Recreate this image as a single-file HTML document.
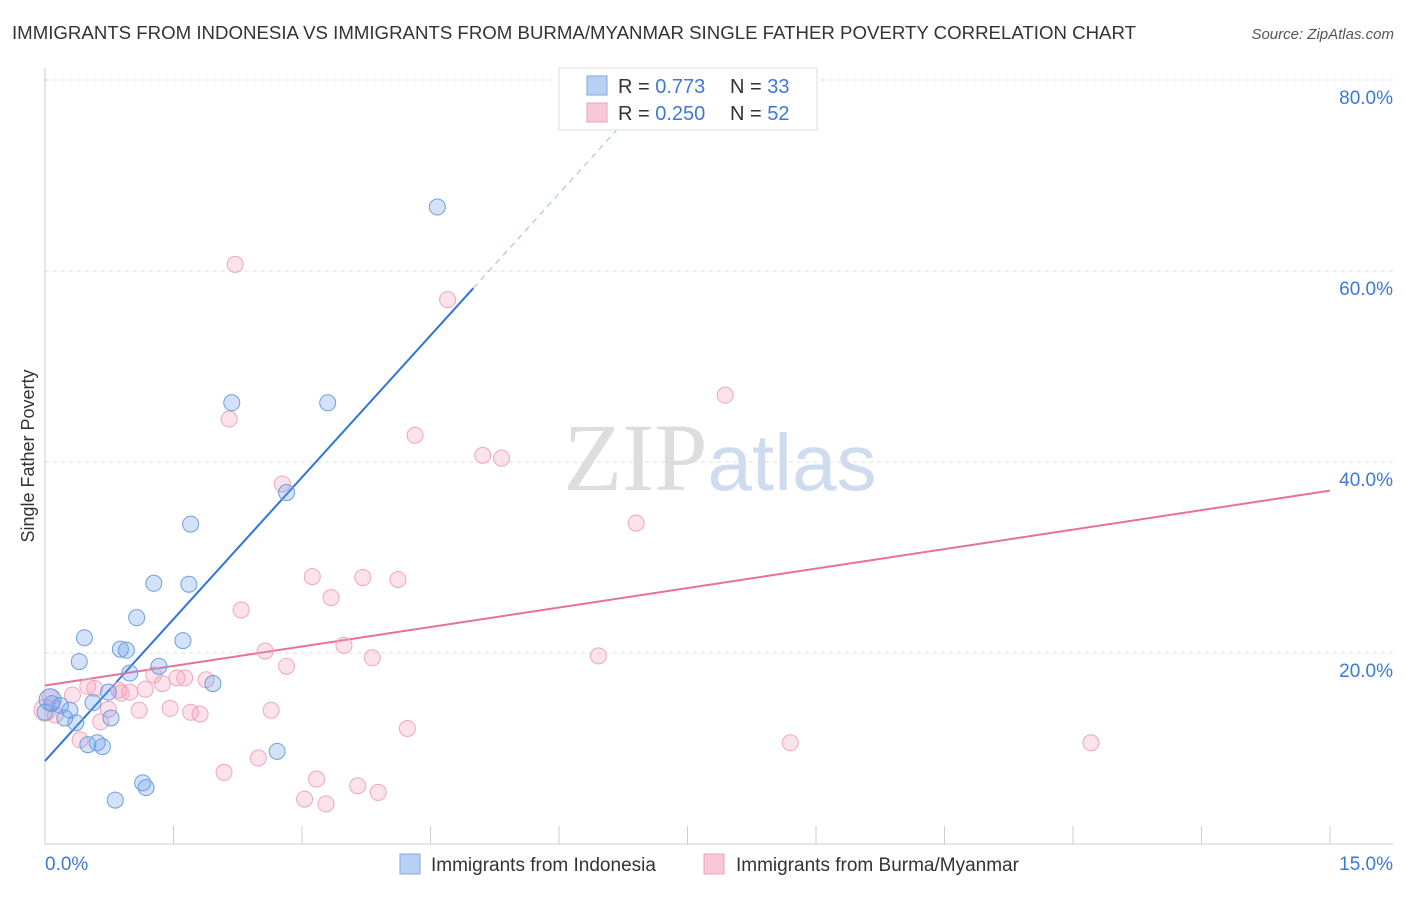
<!DOCTYPE html>
<html><head><meta charset="utf-8">
<style>
body{margin:0;background:#fff;font-family:"Liberation Sans",sans-serif;}
svg text{font-family:"Liberation Sans",sans-serif;}
</style></head>
<body>
<svg id="chart" width="1406" height="892" xmlns="http://www.w3.org/2000/svg">
<text x="12" y="39" font-size="18" fill="#333" textLength="1124" lengthAdjust="spacingAndGlyphs">IMMIGRANTS FROM INDONESIA VS IMMIGRANTS FROM BURMA/MYANMAR SINGLE FATHER POVERTY CORRELATION CHART</text>
<text x="1394" y="39" font-size="15" fill="#555" font-style="italic" text-anchor="end">Source: ZipAtlas.com</text>
<text x="720" y="490" font-size="96" text-anchor="middle"><tspan fill="#ddd" font-family="Liberation Serif">ZIP</tspan><tspan fill="#cfdcf0" font-size="80">atlas</tspan></text>
<text transform="translate(34,456) rotate(-90)" font-size="18" fill="#333" text-anchor="middle">Single Father Poverty</text>
<g id="grid"></g><g id="axes"></g><g id="lines"></g><g id="pts"></g>
<g>
<rect x="559" y="68" width="258" height="62" fill="#fff" stroke="#ddd"/>
<rect x="587" y="76" width="20" height="19" fill="#b8d0f4" stroke="#7fa8e4"/>
<rect x="587" y="103" width="20" height="19" fill="#f9c8d6" stroke="#eea0b8"/>
<text x="618" y="93" font-size="20" fill="#333">R = <tspan fill="#3d78d8">0.773</tspan></text>
<text x="730" y="93" font-size="20" fill="#333">N = <tspan fill="#3d78d8">33</tspan></text>
<text x="618" y="120" font-size="20" fill="#333">R = <tspan fill="#3d78d8">0.250</tspan></text>
<text x="730" y="120" font-size="20" fill="#333">N = <tspan fill="#3d78d8">52</tspan></text>
</g>
<g>
<rect x="400" y="854" width="20" height="20" fill="#b8d0f4" stroke="#7fa8e4"/>
<text x="431" y="871" font-size="19" fill="#333">Immigrants from Indonesia</text>
<rect x="704" y="854" width="20" height="20" fill="#f9c8d6" stroke="#eea0b8"/>
<text x="736" y="871" font-size="19" fill="#333">Immigrants from Burma/Myanmar</text>
</g>
</svg>
<script>
const blueX=[4.58,2.18,3.30,2.82,1.70,1.27,1.68,1.07,0.46,1.61,0.88,0.95,0.40,1.33,0.99,1.96,0.74,0.56,0.08,0.18,0.29,0,0.77,0.23,0.36,0.61,0.50,0.67,2.71,1.14,1.18,0.82,0.06];
const blueY=[66.7,46.2,46.2,36.8,33.5,27.3,27.2,23.7,21.6,21.3,20.4,20.3,19.1,18.6,17.9,16.8,15.9,14.8,14.7,14.5,14.0,13.8,13.2,13.2,12.7,10.6,10.4,10.2,9.7,6.4,5.9,4.6,15.1];
const pinkX=[2.22,4.70,2.15,7.94,4.32,5.11,5.33,6.90,2.77,3.12,3.71,4.12,3.34,2.29,3.49,2.57,6.46,3.82,2.82,1.27,1.54,1.63,1.88,1.37,0.50,0.58,0.86,1.17,0.99,0.32,0.89,0.06,2.64,1.10,0.74,1.46,1.70,1.81,0.12,0.65,4.23,0.41,8.70,12.21,2.49,2.09,3.17,3.65,3.89,3.03,3.28,0];
const pinkY=[60.7,57.0,44.5,47.0,42.8,40.7,40.4,33.6,37.7,28.0,27.9,27.7,25.8,24.5,20.8,20.2,19.7,19.5,18.6,17.7,17.4,17.4,17.2,16.8,16.5,16.3,16.1,16.2,15.9,15.6,15.8,15.4,14.0,14.0,14.1,14.2,13.8,13.6,13.5,12.8,12.1,10.9,10.6,10.6,9.0,7.5,6.8,6.1,5.4,4.7,4.2,14.0];
const yTicks=[20,40,60,80];
const xTicks=[0,1.5,3,4.5,6,7.5,9,10.5,12,13.5,15];
const blueLine=[8.7,9.9];  // intercept, slope
const pinkLine=[16.6,1.36];
const NS="http://www.w3.org/2000/svg";
const X=v=>45+v/15*1285, Y=v=>844-v*9.55;
function mk(p,t,a){const e=document.createElementNS(NS,t);for(const k in a)e.setAttribute(k,a[k]);document.getElementById(p).appendChild(e);return e;}
yTicks.forEach(t=>{
 const l=mk('grid','line',{x1:45,x2:1393,y1:Y(t),y2:Y(t),stroke:'#ddd','stroke-dasharray':'4,4'});
 
 
 const tx=mk('grid','text',{x:1393,y:Y(t)+24,'font-size':19,fill:'#3d78d8','text-anchor':'end'});
 tx.textContent=t.toFixed(1)+'%';
 
 
});
mk('axes','line',{x1:45,x2:1393,y1:844,y2:844,stroke:'#ccc'});
mk('axes','line',{x1:45,x2:45,y1:68,y2:844,stroke:'#ccc'});
xTicks.forEach(t=>{const l=mk('axes','line',{x1:X(t),x2:X(t),y1:826,y2:844,stroke:'#ccc'});
 
 });
const x0=mk('axes','text',{x:45,y:870,'font-size':19,fill:'#3d78d8'});x0.textContent=xTicks[0].toFixed(1)+'%';


const x1=mk('axes','text',{x:1393,y:870,'font-size':19,fill:'#3d78d8','text-anchor':'end'});x1.textContent=xTicks[10].toFixed(1)+'%';


const bx=5.0, bxe=6.8;
const bl=mk('lines','line',{x1:X(0),y1:Y(blueLine[0]),x2:X(bx),y2:Y(blueLine[0]+blueLine[1]*bx),stroke:'#2f74d8','stroke-width':2});


const bd=mk('lines','line',{x1:X(bx),y1:Y(blueLine[0]+blueLine[1]*bx),x2:X(bxe),y2:Y(blueLine[0]+blueLine[1]*bxe),stroke:'#9bbbe8','stroke-width':1,'stroke-dasharray':'6,5'});


const pl=mk('lines','line',{x1:X(0),y1:Y(pinkLine[0]),x2:X(15),y2:Y(pinkLine[0]+pinkLine[1]*15),stroke:'#e8709a','stroke-width':2});


pinkX.forEach((v,i)=>{const c=mk('pts','circle',{cx:X(v),cy:Y(pinkY[i]),r:i==pinkX.length-1?11:8,fill:'rgba(245,160,190,0.3)',stroke:'#f0a6bd','stroke-width':1});
 
 });
blueX.forEach((v,i)=>{const c=mk('pts','circle',{cx:X(v),cy:Y(blueY[i]),r:i==blueX.length-1?11:8,fill:'rgba(110,160,235,0.3)',stroke:'#6e9fe0','stroke-width':1});
 
 });
</script>
</body></html>
